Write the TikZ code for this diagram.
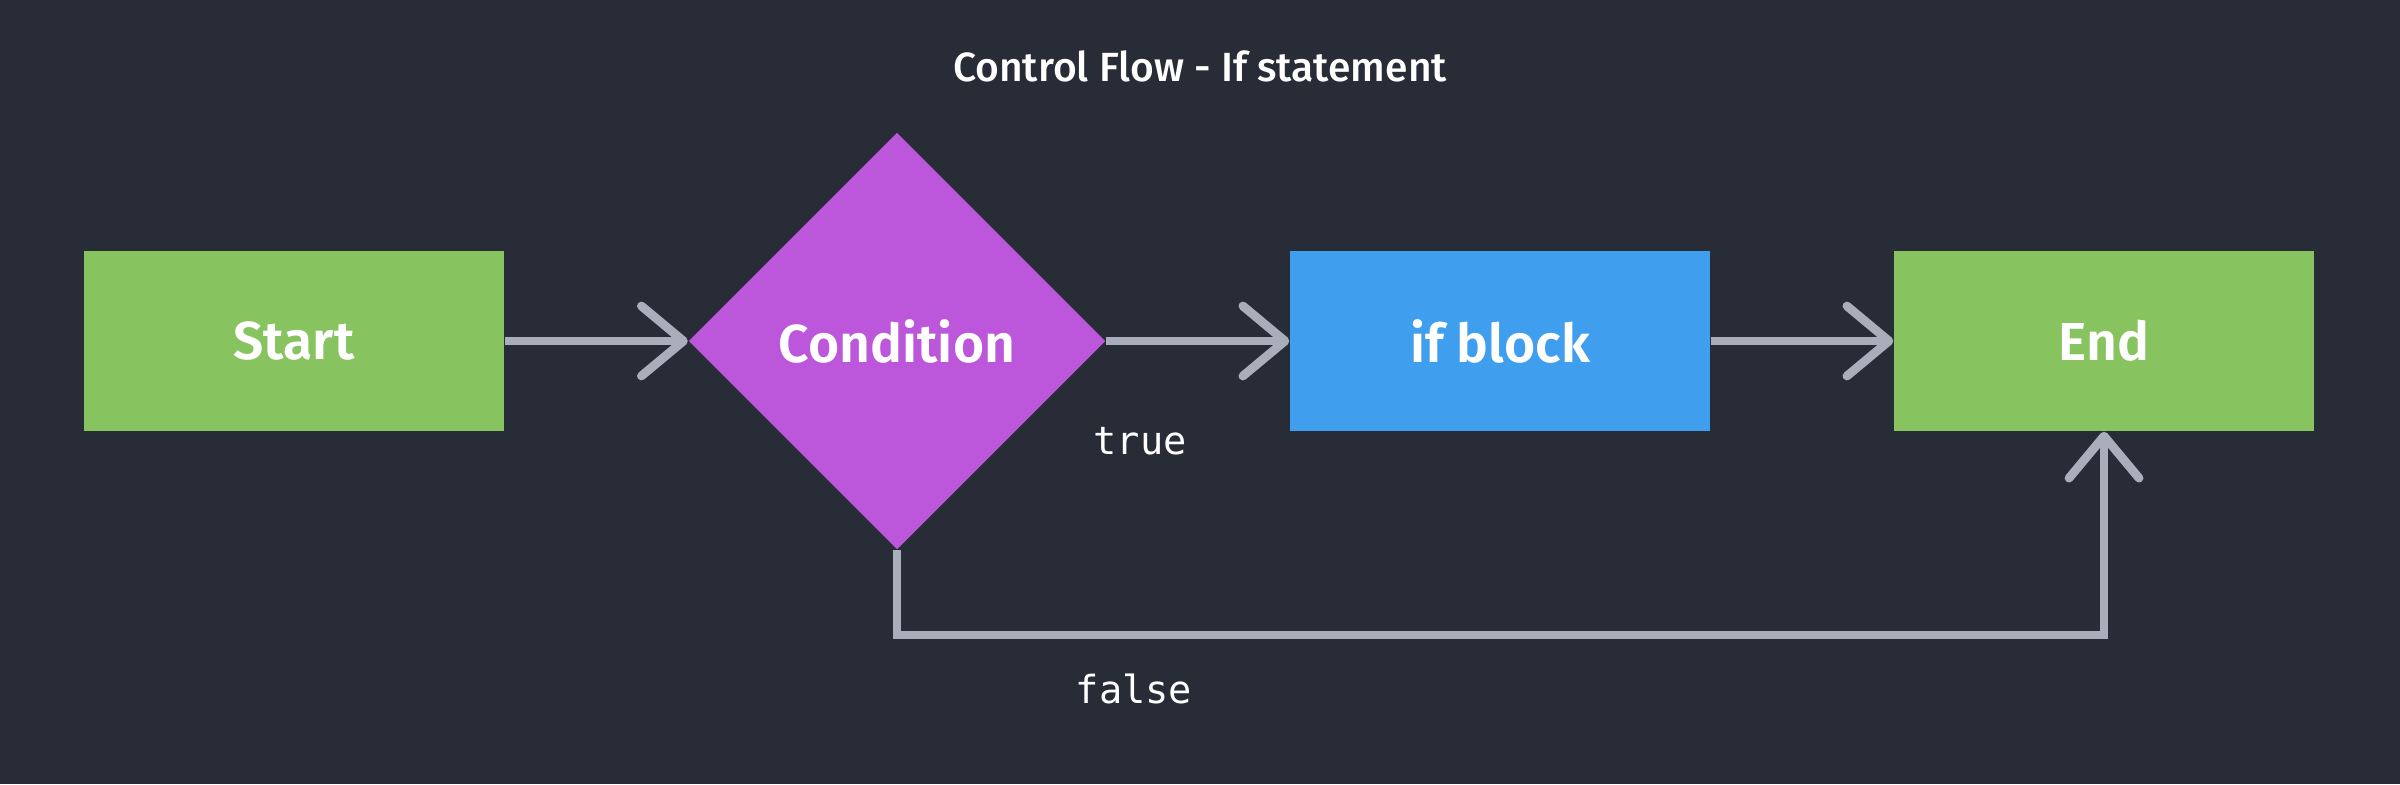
\documentclass[tikz,border=0pt]{standalone}
\usepackage{fontspec}
\setmainfont{Fira Sans}[BoldFont={Fira Sans SemiBold}]
\newfontfamily\titlefont{Fira Sans Medium}
\setmonofont{DejaVu Sans Mono}
\usetikzlibrary{shapes.geometric,arrows.meta}

\definecolor{bgdark}{HTML}{282C36}
\definecolor{boxgreen}{HTML}{87C35F}
\definecolor{boxpurple}{HTML}{BC56DB}
\definecolor{boxblue}{HTML}{3F9FEE}
\definecolor{flowgrey}{HTML}{A8AFBB}

\begin{document}
\begin{tikzpicture}[
    block/.style={rectangle, minimum width=4.2cm, minimum height=1.8cm, inner sep=0pt,
        text=white, font=\fontsize{15.2}{18}\selectfont\bfseries},
    decision/.style={diamond, fill=boxpurple, minimum size=4.17cm, inner sep=0pt,
        text=white, font=\fontsize{15.2}{18}\selectfont\bfseries},
    flow/.style={draw=flowgrey, line width=2.5pt, line join=miter,
        -{Straight Barb[length=4.2mm, width=7mm, round]}},
    branch/.style={text=white, font=\fontsize{11}{13}\selectfont\ttfamily}
]
    \fill[bgdark] (0,0) rectangle (24,-7.84);
    \useasboundingbox (0,0) rectangle (24,-7.84);

    \node[text=white, font=\fontsize{11.6}{14}\selectfont\titlefont] (title) at (12,-0.66) {Control Flow - If statement};

    \node[block, fill=boxgreen] (start) at (2.94,-3.41) {Start};
    \node[decision] (cond) at (8.97,-3.41) {Condition};
    \node[block, fill=boxblue] (ifblock) at (15.00,-3.41) {if block};
    \node[block, fill=boxgreen] (end) at (21.04,-3.41) {End};

    \draw[flow] (start.east) -- (cond.west);
    \draw[flow] (cond.east) -- (ifblock.west);
    \draw[flow] (ifblock.east) -- (end.west);

    % false branch goes round underneath
    \coordinate (low) at (0,-6.35);
    \draw[flow] (cond.south) -- (cond.south |- low) -| (end.south);

    \node[branch] (truelabel) at (11.40,-4.41) {true};
    \node[branch] (falselabel) at (11.34,-6.89) {false};
\end{tikzpicture}
\end{document}
